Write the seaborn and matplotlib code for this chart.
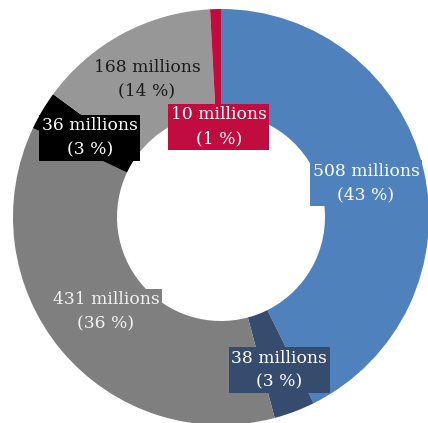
import matplotlib
matplotlib.use("Agg")
import matplotlib.pyplot as plt
import seaborn as sns

# Shares, clockwise from 12 o'clock
values = [508, 38, 431, 36, 168, 10]
slice_colors = ["#4F81BD", "#364C6F", "#7F7F7F", "#000000", "#979797", "#C00C3E"]
text_colors = ["#FFFFFF", "#FFFFFF", "#F2F2F2", "#FFFFFF", "#1A1A1A", "#FFFFFF"]
# Label anchor points in axes data units
label_x = [0.697, 0.279, -0.553, -0.630, -0.356, -0.010]
label_y = [0.163, -0.736, -0.457, 0.380, 0.663, 0.433]

sns.set_theme(style="white")
plt.rcParams["font.family"] = ["DejaVu Serif", "Liberation Serif"]

fig = plt.figure(figsize=(4.28, 4.23), dpi=100)
ax = fig.add_axes([0, 0, 1, 1])

ax.pie(values, colors=slice_colors, startangle=90, counterclock=False,
       radius=1.0, wedgeprops=dict(width=0.5, linewidth=0))

total = sum(values)
for v, c, tc, x, y in zip(values, slice_colors, text_colors, label_x, label_y):
    pct = 100 * v / total
    ax.text(x, y, f"{v} millions\n({pct:.0f} %)", ha="center", va="center",
            fontsize=12.3, color=tc, linespacing=1.55,
            bbox=dict(boxstyle="square,pad=0.15", facecolor=c, edgecolor="none"))

ax.set_xlim(-221 / 208, (428 - 221) / 208)
ax.set_ylim(-(423 - 217) / 208, 217 / 208)
ax.set_aspect("auto")
ax.axis("off")

fig.savefig("out.png", dpi=100)
